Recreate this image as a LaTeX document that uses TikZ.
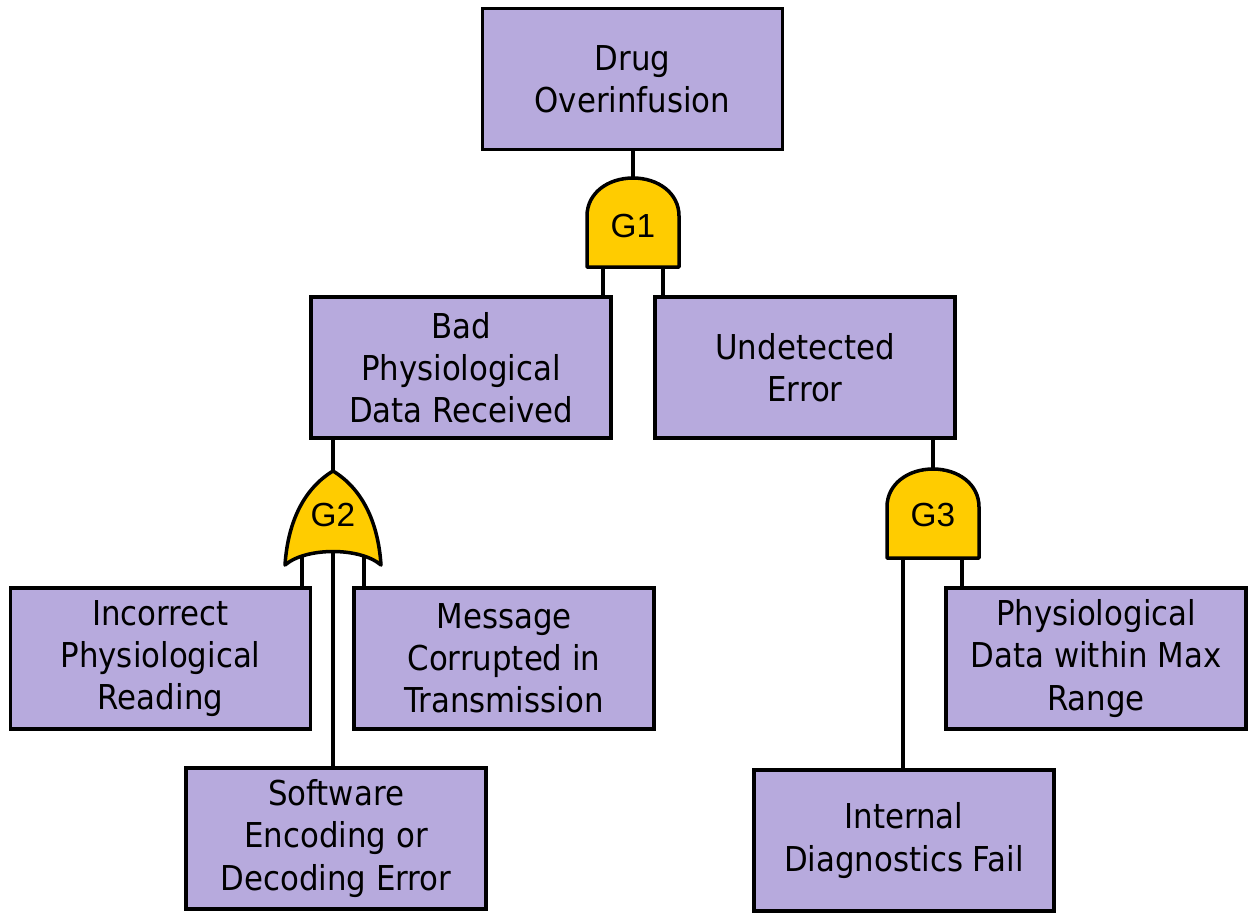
\documentclass[tikz,border=0pt]{standalone}
\usepackage{fontspec}
\setmainfont{DejaVu Sans}[FakeStretch=0.9]
\newfontfamily\gatefont{Liberation Sans}

\definecolor{eventfill}{RGB}{183,170,221}
\definecolor{gatefill}{RGB}{255,204,0}

\tikzset{
  event/.style={draw, fill=eventfill, line width=2pt, minimum width=6cm,
    minimum height=2.82cm, align=center, font=\fontsize{19.5}{24}\selectfont},
  gatebody/.style={draw, fill=gatefill, line width=2pt, line join=round},
  gatelabel/.style={font=\gatefont\fontsize{19}{21}\selectfont},
  wire/.style={line width=2pt},
}

\begin{document}
\begin{tikzpicture}[x=0.02cm, y=-0.02cm]
    \useasboundingbox (0,0) rectangle (1250,914);

    % events
    \node[event] (top) at (632.5, 79) {Drug\\Overinfusion};
    \node[event] (bad) at (461, 367.5) {Bad\\Physiological\\Data Received};
    \node[event] (undet) at (805, 367.5) {Undetected\\Error};
    \node[event] (incorr) at (160.5, 658.5) {Incorrect\\Physiological\\Reading};
    \node[event] (msg) at (504, 658.5) {Message\\Corrupted in\\Transmission};
    \node[event] (sw) at (336, 838.5) {Software\\Encoding or\\Decoding Error};
    \node[event] (phys) at (1096, 658.5) {Physiological\\Data within Max\\Range};
    \node[event] (diag) at (904, 840.5) {Internal\\Diagnostics Fail};

    % gate ends
    \coordinate (g1top) at (633, 178);
    \coordinate (g1a) at (603, 260);
    \coordinate (g1b) at (663, 260);
    \coordinate (g2top) at (333, 471);
    \coordinate (g2a) at (302, 552);
    \coordinate (g2b) at (333, 545);
    \coordinate (g2c) at (364, 552);
    \coordinate (g3top) at (933, 469);
    \coordinate (g3a) at (903, 550);
    \coordinate (g3b) at (962, 550);

    % wires
    \draw[wire] (top.south -| g1top) -- (g1top);
    \draw[wire] (g1a) -- (g1a |- bad.north);
    \draw[wire] (g1b) -- (g1b |- undet.north);
    \draw[wire] (g2top |- bad.south) -- (g2top);
    \draw[wire] (g2a) -- (g2a |- incorr.north);
    \draw[wire] (g2b) -- (g2b |- sw.north);
    \draw[wire] (g2c) -- (g2c |- msg.north);
    \draw[wire] (g3top |- undet.south) -- (g3top);
    \draw[wire] (g3a) -- (g3a |- diag.north);
    \draw[wire] (g3b) -- (g3b |- phys.north);

    % and gate G1
    \draw[gatebody] (587,267) -- (587,216)
        .. controls (587,193) and (608,178) .. (633,178)
        .. controls (658,178) and (679,193) .. (679,216) -- (679,267) -- cycle;
    % or gate G2
    \draw[gatebody] (285,565) .. controls (288,520) and (305,488) .. (333,471)
        .. controls (361,488) and (378,520) .. (381,565)
        .. controls (360,547) and (306,547) .. cycle;
    % and gate G3
    \draw[gatebody] (887,558) -- (887,507)
        .. controls (887,484) and (908,469) .. (933,469)
        .. controls (958,469) and (979,484) .. (979,507) -- (979,558) -- cycle;

    \node[gatelabel] (g1) at (633, 226) {G1};
    \node[gatelabel] (g2) at (333, 515) {G2};
    \node[gatelabel] (g3) at (933, 515) {G3};
\end{tikzpicture}
\end{document}
